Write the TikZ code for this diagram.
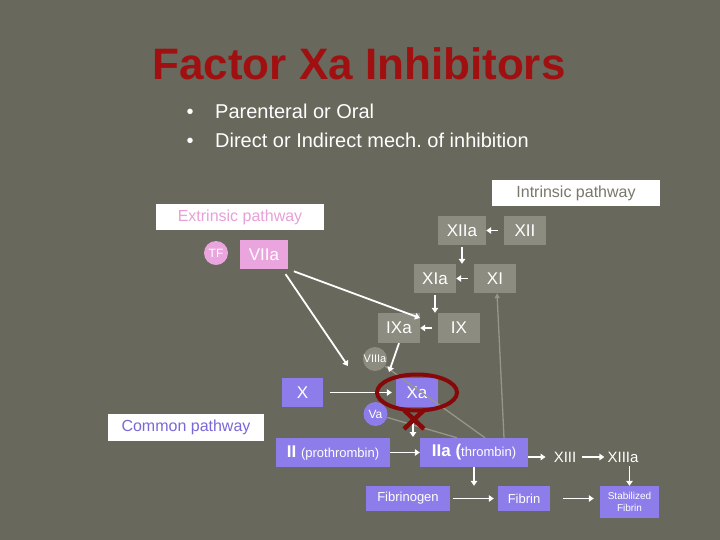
\documentclass[tikz,border=0pt]{standalone}
\usepackage{fontspec}
\setmainfont{Liberation Sans}
\usetikzlibrary{arrows.meta}
\definecolor{bgc}{RGB}{104,104,92}
\definecolor{titlered}{RGB}{160,16,16}
\definecolor{greybox}{RGB}{140,140,128}
\definecolor{purplebox}{RGB}{140,125,235}
\definecolor{pinkbox}{RGB}{235,165,222}
\definecolor{ringred}{RGB}{135,8,8}
\definecolor{greyline}{RGB}{150,150,138}
\newcommand{\fsz}[1]{\fontsize{#1}{#1}\selectfont}
\frenchspacing
\begin{document}
\begin{tikzpicture}[
x=1pt, y=-1pt,
every node/.style={inner sep=0pt, text=white},
factor/.style={minimum height=29pt, font=\fsz{17}},
greyfac/.style={factor, fill=greybox, minimum width=42pt},
purplefac/.style={factor, fill=purplebox},
pinkfac/.style={factor, fill=pinkbox, minimum width=48pt},
dot/.style={circle, minimum size=24pt, font=\fsz{12}},
lbl/.style={fill=white, minimum height=26pt, font=\fsz{16}},
arr/.style={draw=white, line width=1.8pt, -{Triangle[length=5pt,width=6.5pt]}},
greyl/.style={draw=greyline, line width=1.3pt}
]
\fill[bgc] (0,0) rectangle (720,540);
\useasboundingbox (0,0) rectangle (720,540);

% title and bullets
\node[text=titlered, font=\fsz{44}\bfseries] (title) at (359,64) {Factor Xa Inhibitors};
\node[anchor=base, font=\fsz{20}] (dot1) at (190,119) {•};
\node[anchor=base west, font=\fsz{20}] (b1) at (215,119) {Parenteral or Oral};
\node[anchor=base, font=\fsz{20}] (dot2) at (190,148) {•};
\node[anchor=base west, font=\fsz{20}] (b2) at (215,148) {Direct or Indirect mech. of inhibition};

% pathway labels
\node[lbl, minimum width=168pt, text={rgb,255:red,120;green,120;blue,108}] (intr) at (576,193) {Intrinsic pathway};
\node[lbl, minimum width=168pt, text={rgb,255:red,232;green,160;blue,215}] (extr) at (240,217.5) {Extrinsic pathway};
\node[lbl, minimum width=156pt, minimum height=27pt, text={rgb,255:red,120;green,105;blue,215}] (common) at (186,427.5) {Common pathway};

% extrinsic
\node[dot, fill=pinkbox] (tf) at (216,253) {TF};
\node[pinkfac] (viia) at (264,254.5) {VIIa};

% intrinsic
\node[greyfac, minimum width=48pt] (xiia) at (462,230.5) {XIIa};
\node[greyfac] (xii) at (525,230.5) {XII};
\node[greyfac] (xia) at (435,278.5) {XIa};
\node[greyfac] (xi) at (495,278.5) {XI};
\node[greyfac, minimum height=30pt] (ixa) at (399,328) {IXa};
\node[greyfac, minimum height=30pt] (ix) at (459,328) {IX};
\node[dot, fill=greybox, font=\fsz{11}] (viiia) at (375,359) {VIIIa};

% common
\node[purplefac, minimum width=41pt] (x) at (302.5,392.5) {X};
\node[purplefac, minimum width=42pt] (xa) at (417,392.5) {Xa};
\node[dot, fill=purplebox] (va) at (375.5,414) {Va};
\node[purplefac, minimum width=114pt] (ii) at (333,452.5) {\textbf{II} {\fsz{13}(prothrombin)}};
\node[purplefac, minimum width=108pt] (iia) at (474,452.5) {\textbf{IIa (}{\fsz{13}thrombin)}};
\node[font=\fsz{15}] (xiii) at (565,457) {XIII};
\node[font=\fsz{15}] (xiiia) at (623,457) {XIIIa};
\node[purplefac, minimum width=84pt, minimum height=25pt, font=\fsz{13}] (fbg) at (408,498.5) {Fibrinogen};
\node[purplefac, minimum width=52pt, minimum height=25pt, font=\fsz{13}] (fbn) at (524,498.5) {Fibrin};
\node[purplefac, minimum width=59pt, minimum height=32pt, font=\fsz{10}, align=center] (sfbn) at (629.5,502) {Stabilized\\[2pt]Fibrin};

\coordinate (ixtip) at (420,318);
\coordinate (xhit) at (348,366);
\coordinate (xatip) at (389,372);

% grey feedback lines
\draw[greyl, -{Triangle[length=5pt,width=5pt]}] ([xshift=30pt]iia.north) -- ([xshift=2pt]xi.south);
\draw[greyl] ([xshift=11pt]iia.north) -- (viiia);
\draw[greyl] (va) -- ([xshift=-17pt]iia.north);

% arrows
\draw[arr, shorten <=6pt] (xii.west) -- (xiia.east);
\draw[arr, shorten <=2pt] (xiia.south) -- (xiia.south |- xia.north);
\draw[arr, shorten <=6pt] (xi.west) -- (xia.east);
\draw[arr, shorten <=2pt] (xia.south) -- (xia.south |- ixa.north);
\draw[arr, shorten <=6pt] (ix.west) -- (ixa.east);
\draw[arr, shorten <=6pt] ([xshift=-6pt]viia.south east) -- (xhit);
\draw[arr, shorten <=6pt] (viia.south east) -- (ixtip);
\draw[arr] (ixa.south) -- (xatip);
\draw[arr, shorten <=7pt, shorten >=4pt] (x.east) -- (xa.west);
\draw[arr] (413,420) -- (413,437);
\draw[arr] (ii.east) -- (iia.west);
\draw[arr, shorten >=8pt] (iia.east |- xiii.west) -- (xiii.west);
\draw[arr, shorten <=6pt, shorten >=3pt] (xiii.east) -- (xiiia.west);
\draw[arr] (iia.south) -- (iia.south |- fbg.north);
\draw[arr, shorten <=3pt, shorten >=4pt] (fbg.east) -- (fbn.west);
\draw[arr, shorten <=13pt, shorten >=6pt] (fbn.east) -- (fbn.east -| sfbn.west);
\draw[arr, shorten <=4pt] (xiiia.south -| sfbn.north) -- (sfbn.north);

% inhibition mark
\draw[ringred, line width=4pt] (xa) ellipse [x radius=40pt, y radius=18pt];
\draw[ringred, line width=4.5pt] (404,410) -- (424,429) (424,410) -- (404,429);
\end{tikzpicture}
\end{document}
